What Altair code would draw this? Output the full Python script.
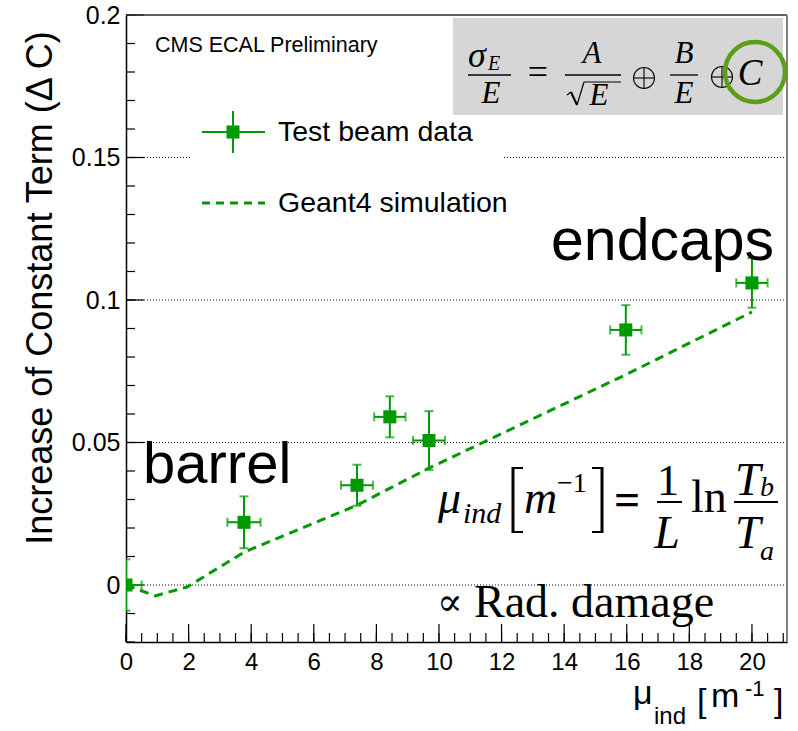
import altair as alt
import pandas as pd

# ---------------- data ----------------
# Test beam data
mu_ind = [0.0, 3.77, 7.38, 8.43, 9.68, 15.97, 20.0]
delta_c = [0.0, 0.022, 0.035, 0.059, 0.0507, 0.0895, 0.106]
delta_c_err = [0.009, 0.0091, 0.0072, 0.0072, 0.0103, 0.0087, 0.0087]
mu_ind_err = [0.5, 0.53, 0.51, 0.5, 0.51, 0.5, 0.5]

# Geant4 simulation
sim_mu = [0.0, 0.93, 1.95, 3.77, 7.38, 9.68, 15.97, 20.0]
sim_dc = [0.0, -0.0038, -0.0007, 0.0115, 0.028, 0.041, 0.0738, 0.0958]

# axes
x_tick_labels = [0, 2, 4, 6, 8, 10, 12, 14, 16, 18, 20]
y_tick_labels = [0, 0.05, 0.1, 0.15, 0.2]
x_minor_ticks = [i * 0.5 for i in range(43)]
y_minor_ticks = [round(-0.02 + i * 0.01, 2) for i in range(23)]
grid_levels = [0, 0.05, 0.1, 0.15]

# ---------------- styling ----------------
GREEN = "#009a00"
SANS = "Liberation Sans"
SERIF = "Liberation Serif"
L0, T0 = 126, 15          # plot origin in the page
W, H = 661, 627           # plot area


def px(v):
    return v - L0


def py(v):
    return v - T0


xscale = alt.Scale(domain=[0, 21.12], nice=False, zero=False)
yscale = alt.Scale(domain=[-0.02, 0.2], nice=False, zero=False)
xaxis = alt.Axis(values=x_tick_labels, title=None, ticks=False, tickSize=0, grid=False,
                 domainColor="black", domainWidth=1.5, labelFont=SANS, labelFontSize=24,
                 labelColor="black", labelPadding=8, labelFlush=False, labelOverlap=False)
yaxis = alt.Axis(values=y_tick_labels, format="~g", title=None, ticks=False, tickSize=0,
                 grid=False, domainColor="black", domainWidth=1.5, labelFont=SANS,
                 labelFontSize=25, labelColor="black", labelPadding=6, labelOverlap=False)


def X(f):
    return alt.X(f"{f}:Q", scale=xscale, axis=xaxis)


def Y(f):
    return alt.Y(f"{f}:Q", scale=yscale, axis=yaxis)


pts = pd.DataFrame({"x": mu_ind, "y": delta_c, "ey": delta_c_err, "ex": mu_ind_err})
pts["ylo"] = pts["y"] - pts["ey"]
pts["yhi"] = pts["y"] + pts["ey"]
pts["xlo"] = pts["x"] - pts["ex"]
pts["xhi"] = pts["x"] + pts["ex"]
sim = pd.DataFrame({"x": sim_mu, "y": sim_dc, "i": list(range(len(sim_mu)))})
one = pd.DataFrame({"a": [0]})

layers = []

# grid lines (dotted)
layers.append(alt.Chart(pd.DataFrame({"g": grid_levels})).mark_rule(
    color="black", strokeWidth=1, strokeDash=[1, 2]).encode(y=Y("g")))

# white legend background (hides part of the 0.15 grid line)
layers.append(alt.Chart(one).mark_rect(color="white").encode(
    x=alt.value(px(190)), x2=alt.value(px(502)), y=alt.value(py(100)), y2=alt.value(py(230))))

# inward ticks
layers.append(alt.Chart(pd.DataFrame({"t": y_minor_ticks})).mark_rule(color="black", strokeWidth=1.2)
              .encode(y=Y("t"), x=alt.value(0), x2=alt.value(9)))
layers.append(alt.Chart(pd.DataFrame({"t": y_tick_labels})).mark_rule(color="black", strokeWidth=1.2)
              .encode(y=Y("t"), x=alt.value(0), x2=alt.value(18)))
layers.append(alt.Chart(pd.DataFrame({"t": x_minor_ticks})).mark_rule(color="black", strokeWidth=1.2)
              .encode(x=X("t"), y=alt.value(H), y2=alt.value(H - 9)))
layers.append(alt.Chart(pd.DataFrame({"t": x_tick_labels})).mark_rule(color="black", strokeWidth=1.2)
              .encode(x=X("t"), y=alt.value(H), y2=alt.value(H - 18)))

# frame top / right
layers.append(alt.Chart(one).mark_rule(color="#333333", strokeWidth=1.5).encode(
    x=alt.value(0), x2=alt.value(W), y=alt.value(0)))
layers.append(alt.Chart(one).mark_rule(color="#808080", strokeWidth=2).encode(
    x=alt.value(W), y=alt.value(0), y2=alt.value(H)))

# simulation
layers.append(alt.Chart(sim).mark_line(color=GREEN, strokeWidth=3, strokeDash=[9, 6], clip=True)
              .encode(x=X("x"), y=Y("y"), order="i:Q"))

# data error bars
base = alt.Chart(pts)
layers.append(base.mark_rule(color=GREEN, strokeWidth=2, clip=True).encode(
    x=X("x"), y=Y("ylo"), y2=alt.Y2("yhi")))
layers.append(base.mark_rule(color=GREEN, strokeWidth=2, clip=True).encode(
    y=Y("y"), x=X("xlo"), x2=alt.X2("xhi")))
for f in ["ylo", "yhi"]:
    layers.append(base.mark_tick(orient="horizontal", size=9, thickness=2, color=GREEN, clip=True)
                  .encode(x=X("x"), y=Y(f)))
for f in ["xlo", "xhi"]:
    layers.append(base.mark_tick(orient="vertical", size=9, thickness=2, color=GREEN, clip=True)
                  .encode(x=X(f), y=Y("y")))
layers.append(base.mark_square(size=170, color=GREEN, opacity=1, clip=True).encode(x=X("x"), y=Y("y")))


def text(txt, x, y, size, font=SANS, align="left", baseline="alphabetic", style="normal",
         angle=0, color="black", weight="normal"):
    return alt.Chart(one).mark_text(
        text=txt, font=font, fontSize=size, align=align, baseline=baseline,
        fontStyle=style, angle=angle, color=color, fontWeight=weight
    ).encode(x=alt.value(px(x)), y=alt.value(py(y)))


def seg(x1, y1, x2, y2, color="black", width=1.3, dash=None):
    kw = dict(color=color, strokeWidth=width)
    if dash:
        kw["strokeDash"] = dash
    return alt.Chart(one).mark_rule(**kw).encode(
        x=alt.value(px(x1)), x2=alt.value(px(x2)), y=alt.value(py(y1)), y2=alt.value(py(y2)))


def hline(x1, x2, y, color="black", width=1.3, dash=None):
    return seg(x1, y, x2, y, color, width, dash)


def vline(x, y1, y2, color="black", width=1.3):
    return seg(x, y1, x, y2, color, width)


def oplus(cx, cy, r):
    return [
        alt.Chart(one).mark_point(shape="circle", size=(2 * r) ** 2, filled=False,
                                  stroke="black", strokeWidth=1.1, opacity=1).encode(
            x=alt.value(px(cx)), y=alt.value(py(cy))),
        hline(cx - r, cx + r, cy, width=1.1),
        vline(cx, cy - r, cy + r, width=1.1),
    ]


# legend
layers.append(hline(202, 265, 132, GREEN, 2))
layers.append(vline(233, 111, 153, GREEN, 2))
layers.append(alt.Chart(one).mark_square(size=170, color=GREEN, opacity=1).encode(
    x=alt.value(px(233)), y=alt.value(py(132))))
layers.append(text("Test beam data", 278, 132, 28.5, baseline="middle"))
layers.append(hline(202, 265, 203, GREEN, 3, [8, 6]))
layers.append(text("Geant4 simulation", 278, 203, 28.5, baseline="middle"))

# header
layers.append(text("CMS ECAL Preliminary", 155, 46, 21.5, baseline="middle"))

# formula box
layers.append(alt.Chart(one).mark_rect(color="#d6d6d6").encode(
    x=alt.value(px(453)), x2=alt.value(px(783)), y=alt.value(py(18)), y2=alt.value(py(115))))
layers.append(text("σ", 468, 67, 36, font=SERIF, style="italic"))
layers.append(text("E", 488, 70, 20, font=SERIF, style="italic"))
layers.append(hline(468, 511, 75))
layers.append(text("E", 491, 103, 31, font=SERIF, style="italic", align="center"))
layers.append(text("=", 538, 84, 36, font=SERIF, align="center"))
layers.append(text("A", 592, 63, 31, font=SERIF, style="italic", align="center"))
layers.append(hline(565, 621, 75))
# square root sign
layers.append(seg(567, 95, 571, 92, width=1.2))
layers.append(seg(571, 92, 577, 105, width=2))
layers.append(seg(577, 105, 584, 82, width=1.2))
layers.append(hline(584, 621, 82, width=1.2))
layers.append(text("E", 599, 105, 31, font=SERIF, style="italic", align="center"))
layers += oplus(644, 78, 10.5)
layers.append(text("B", 684, 63, 31, font=SERIF, style="italic", align="center"))
layers.append(hline(670, 698, 75))
layers.append(text("E", 684, 103, 31, font=SERIF, style="italic", align="center"))
layers += oplus(722, 77, 10.5)
layers.append(text("C", 750, 85, 37, font=SERIF, style="italic", align="center"))
layers.append(alt.Chart(one).mark_point(shape="circle", size=3600, filled=False,
                                        stroke="#5c9d1a", strokeWidth=4.5, opacity=1).encode(
    x=alt.value(px(755)), y=alt.value(py(72))))

# big labels
layers.append(text("endcaps", 551, 260, 59))
layers.append(text("barrel", 143, 483, 58))

# mu_ind formula
layers.append(text("μ", 438, 513, 46, font=SERIF, style="italic"))
layers.append(text("ind", 463, 523, 30, font=SERIF, style="italic"))
# brackets drawn as thin strokes
layers.append(vline(513, 467, 533, width=3))
layers.append(hline(512, 523, 468, width=2))
layers.append(hline(512, 523, 532, width=2))
layers.append(text("m", 524, 513, 46, font=SERIF, style="italic"))
layers.append(text("−1", 557, 492, 28, font=SERIF))
layers.append(vline(602, 467, 533, width=3))
layers.append(hline(592, 603, 468, width=2))
layers.append(hline(592, 603, 532, width=2))
layers.append(text("=", 627, 515, 46, font=SERIF, align="center", weight="bold"))
layers.append(text("1", 668, 495, 44, font=SERIF, align="center"))
layers.append(hline(657, 682, 502, width=2))
layers.append(text("L", 667, 548, 46, font=SERIF, style="italic", align="center"))
layers.append(text("ln", 691, 512, 46, font=SERIF))
layers.append(text("T", 735, 495, 46, font=SERIF, style="italic"))
layers.append(text("b", 760, 496, 28, font=SERIF, style="italic"))
layers.append(hline(734, 778, 502, width=2))
layers.append(text("T", 735, 548, 46, font=SERIF, style="italic"))
layers.append(text("a", 760, 560, 28, font=SERIF, style="italic"))
layers.append(text("∝", 437, 615, 38, font="DejaVu Serif"))
layers.append(text("Rad. damage", 474, 617, 46, font=SERIF))

# axis titles
layers.append(text("Increase of Constant Term (Δ C)", 52, 288, 36, align="center",
                   baseline="alphabetic", angle=270))
layers.append(text("μ", 633, 704, 34))
layers.append(text("ind", 654, 724, 24))
layers.append(text("[", 697, 712, 34))
layers.append(text("m", 711, 707, 34))
layers.append(text("-1", 745, 696, 22))
layers.append(text("]", 774, 712, 34))

chart = alt.layer(*layers).properties(
    width=W, height=H,
    autosize=alt.AutoSizeParams(type="none"),
    padding={"left": L0, "top": T0, "right": 798 - L0 - W, "bottom": 731 - T0 - H},
).configure_view(stroke=None).configure(background="white")

chart.save("out.html", embed_options={"renderer": "svg", "actions": False})
